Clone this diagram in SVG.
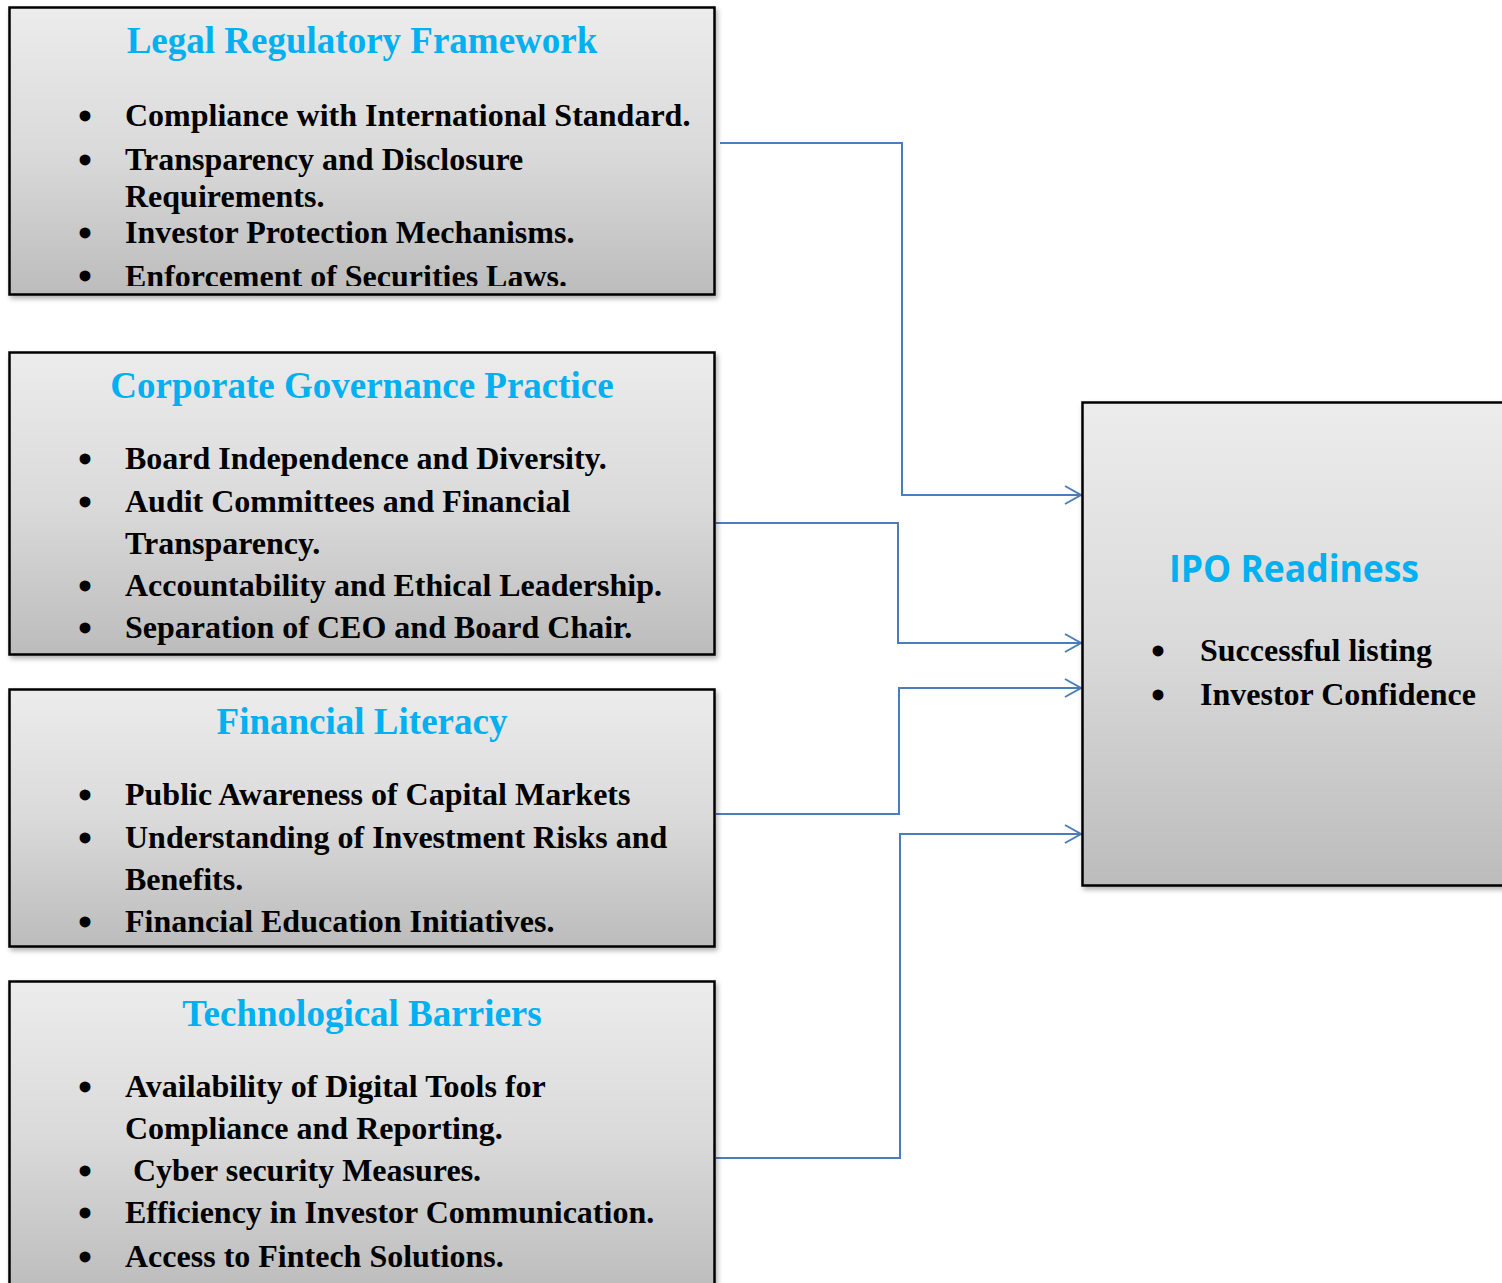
<svg xmlns="http://www.w3.org/2000/svg" width="1502" height="1283" viewBox="0 0 1502 1283">
  <style>
    .box { fill: url(#boxFill); stroke: #000; stroke-width: 2.5; filter: url(#shadow); }
    .title { font-family: "Liberation Serif", "Times New Roman", serif; font-weight: bold; font-size: 37px; fill: #00b0f0; text-anchor: middle; }
    .item { font-family: "Liberation Serif", "Times New Roman", serif; font-weight: bold; font-size: 32px; fill: #000; }
    .bullet { font-family: "Liberation Serif", "Times New Roman", serif; font-weight: bold; font-size: 40px; fill: #000; text-anchor: middle; }
    .ipo-title { font-family: "Open Sans", "Noto Sans", sans-serif; font-weight: bold; font-size: 38px; fill: #00b0f0; }
    .link { fill: none; stroke: #4a7ebb; stroke-width: 2; marker-end: url(#arrow); }
  </style>
  <defs>
    <linearGradient id="boxFill" x1="0" y1="0" x2="0" y2="1">
      <stop offset="0" stop-color="#ececec"/>
      <stop offset="0.5" stop-color="#dadada"/>
      <stop offset="1" stop-color="#bcbcbc"/>
    </linearGradient>
    <filter id="shadow" x="-5%" y="-5%" width="110%" height="115%">
      <feDropShadow dx="2" dy="3" stdDeviation="2.5" flood-color="#000" flood-opacity="0.3"/>
    </filter>
    <marker id="arrow" markerUnits="userSpaceOnUse" markerWidth="20" markerHeight="22" refX="17" refY="10" orient="auto">
      <path d="M1,1 L17,10 L1,19" fill="none" stroke="#4a7ebb" stroke-width="2"/>
    </marker>
    <clipPath id="clip1"><rect x="9" y="7" width="706" height="279"/></clipPath>
  </defs>

  <!-- connectors from each factor box into the IPO Readiness box -->
  <g id="connectors">
    <path class="link" d="M720,143 H902 V495 H1081"/>
    <path class="link" d="M716,523 H898 V643 H1081"/>
    <path class="link" d="M716,814 H899 V688 H1081"/>
    <path class="link" d="M716,1158 H900 V834 H1081"/>
  </g>

  <g id="legal-framework">
    <rect class="box" x="9.5" y="7.5" width="705" height="287"/>
    <g clip-path="url(#clip1)">
      <text class="title" x="362" y="53">Legal Regulatory Framework</text>
      <text class="bullet" x="85" y="130">•</text>
      <text class="item" x="125" y="126">Compliance with International Standard.</text>
      <text class="bullet" x="85" y="174">•</text>
      <text class="item" x="125" y="170">Transparency and Disclosure</text>
      <text class="item" x="125" y="207">Requirements.</text>
      <text class="bullet" x="85" y="247">•</text>
      <text class="item" x="125" y="243">Investor Protection Mechanisms.</text>
      <text class="bullet" x="85" y="290">•</text>
      <text class="item" x="125" y="287">Enforcement of Securities Laws.</text>
    </g>
  </g>

  <g id="corporate-governance">
    <rect class="box" x="9.5" y="352.5" width="705" height="302"/>
    <text class="title" x="362" y="398">Corporate Governance Practice</text>
    <text class="bullet" x="85" y="473">•</text>
    <text class="item" x="125" y="469">Board Independence and Diversity.</text>
    <text class="bullet" x="85" y="516">•</text>
    <text class="item" x="125" y="512">Audit Committees and Financial</text>
    <text class="item" x="125" y="554">Transparency.</text>
    <text class="bullet" x="85" y="600">•</text>
    <text class="item" x="125" y="596">Accountability and Ethical Leadership.</text>
    <text class="bullet" x="85" y="642">•</text>
    <text class="item" x="125" y="638">Separation of CEO and Board Chair.</text>
  </g>

  <g id="financial-literacy">
    <rect class="box" x="9.5" y="689.5" width="705" height="257"/>
    <text class="title" x="362" y="734">Financial Literacy</text>
    <text class="bullet" x="85" y="809">•</text>
    <text class="item" x="125" y="805">Public Awareness of Capital Markets</text>
    <text class="bullet" x="85" y="852">•</text>
    <text class="item" x="125" y="848">Understanding of Investment Risks and</text>
    <text class="item" x="125" y="890">Benefits.</text>
    <text class="bullet" x="85" y="936">•</text>
    <text class="item" x="125" y="932">Financial Education Initiatives.</text>
  </g>

  <g id="technological-barriers">
    <rect class="box" x="9.5" y="981.5" width="705" height="312"/>
    <text class="title" x="362" y="1026">Technological Barriers</text>
    <text class="bullet" x="85" y="1101">•</text>
    <text class="item" x="125" y="1097">Availability of Digital Tools for</text>
    <text class="item" x="125" y="1139">Compliance and Reporting.</text>
    <text class="bullet" x="85" y="1185">•</text>
    <text class="item" x="125" y="1181" xml:space="preserve"> Cyber security Measures.</text>
    <text class="bullet" x="85" y="1227">•</text>
    <text class="item" x="125" y="1223">Efficiency in Investor Communication.</text>
    <text class="bullet" x="85" y="1271">•</text>
    <text class="item" x="125" y="1267">Access to Fintech Solutions.</text>
  </g>

  <g id="ipo-readiness">
    <rect class="box" x="1082.5" y="402.5" width="430" height="483"/>
    <text class="ipo-title" x="1169" y="582" textLength="250" lengthAdjust="spacingAndGlyphs">IPO Readiness</text>
    <text class="bullet" x="1158" y="665">•</text>
    <text class="item" x="1200" y="661">Successful listing</text>
    <text class="bullet" x="1158" y="709">•</text>
    <text class="item" x="1200" y="705">Investor Confidence</text>
  </g>
</svg>
